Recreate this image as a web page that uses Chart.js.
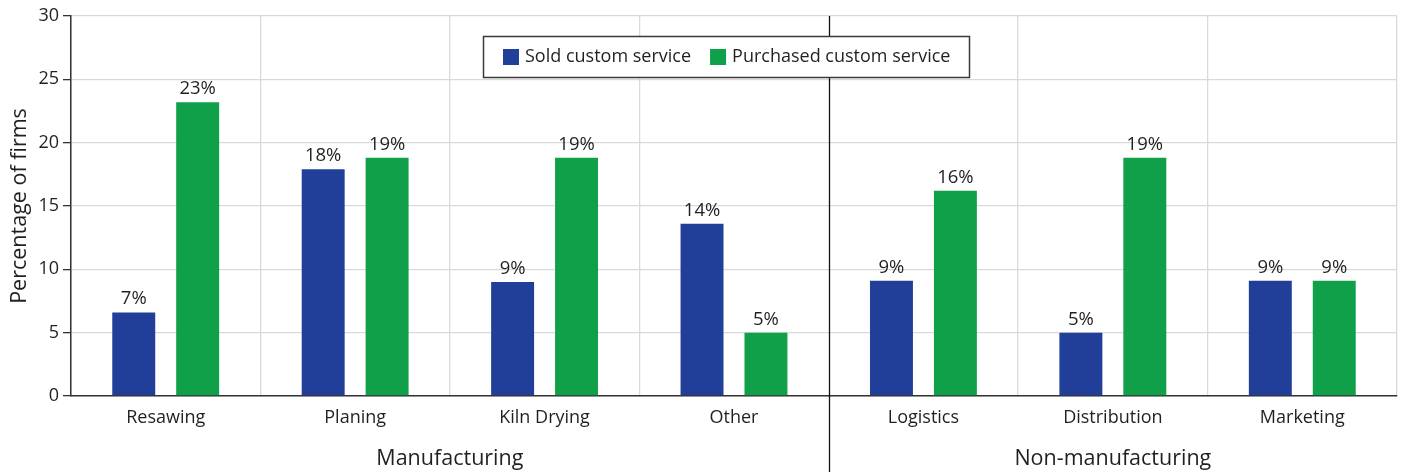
<!DOCTYPE html>
<html>
<head>
<meta charset="utf-8">
<script src="https://cdn.jsdelivr.net/npm/chart.js@4.4.0/dist/chart.umd.min.js"></script>
<style>
  html, body { margin: 0; padding: 0; background: #fff; }
  #wrap { width: 1403px; height: 472px; position: relative; }
</style>
</head>
<body>
<div id="wrap"><canvas id="servicesChart"></canvas></div>
<script>
var categories = ["Resawing", "Planing", "Kiln Drying", "Other", "Logistics", "Distribution", "Marketing"];
var soldValues = [6.6, 17.9, 9.0, 13.6, 9.1, 5.0, 9.1];
var purchasedValues = [23.2, 18.8, 18.8, 5.0, 16.2, 18.8, 9.1];
var groupNames = ["Manufacturing", "Non-manufacturing"];
var groupSizes = [4, 3];
var yTicks = [0, 5, 10, 15, 20, 25, 30];

var FONT = "'Open Sans', 'DejaVu Sans', sans-serif";
var TEXT = "#231f20";
var AXIS = "#333333";

// value labels, group labels, separator and the boxed legend
var extrasPlugin = {
  id: "extras",
  afterDatasetsDraw: function (chart) {
    var ctx = chart.ctx;
    ctx.save();
    ctx.fillStyle = TEXT;
    ctx.font = "18.5px " + FONT;
    ctx.textAlign = "center";
    ctx.textBaseline = "alphabetic";
    chart.data.datasets.forEach(function (ds, i) {
      chart.getDatasetMeta(i).data.forEach(function (bar, j) {
        ctx.fillText(Math.round(ds.data[j]) + "%", bar.x, bar.y - 8);
      });
    });
    ctx.restore();
  },
  afterDraw: function (chart) {
    var ctx = chart.ctx;
    var x = chart.scales.x;
    var area = chart.chartArea;
    var half = (x.getPixelForValue(1) - x.getPixelForValue(0)) / 2;
    ctx.save();

    // group labels under the category labels
    var start = 0;
    ctx.fillStyle = TEXT;
    ctx.font = "21.5px " + FONT;
    ctx.textAlign = "center";
    ctx.textBaseline = "middle";
    groupNames.forEach(function (name, g) {
      var left = x.getPixelForValue(start) - half;
      var right = x.getPixelForValue(start + groupSizes[g] - 1) + half;
      ctx.fillText(name, (left + right) / 2, 459);
      start += groupSizes[g];
    });

    // separator between the two groups, down to the bottom edge
    var sepX = Math.round(x.getPixelForValue(groupSizes[0]) - half) + 0.5;
    ctx.strokeStyle = "#111";
    ctx.lineWidth = 1.3;
    ctx.beginPath();
    ctx.moveTo(sepX, area.top);
    ctx.lineTo(sepX, chart.height);
    ctx.stroke();

    // legend box
    var boxL = 483.5, boxT = 36.5, boxW = 486, boxH = 41;
    ctx.fillStyle = "#fff";
    ctx.fillRect(boxL, boxT, boxW, boxH);
    ctx.strokeStyle = "#3a3a3a";
    ctx.lineWidth = 1.5;
    ctx.strokeRect(boxL, boxT, boxW, boxH);
    ctx.font = "18px " + FONT;
    ctx.textAlign = "left";
    ctx.textBaseline = "middle";
    var lx = 503;
    chart.data.datasets.forEach(function (ds) {
      ctx.fillStyle = ds.backgroundColor;
      ctx.fillRect(lx, 49, 16, 16);
      ctx.fillStyle = TEXT;
      ctx.fillText(ds.label, lx + 22, 57);
      lx += 22 + ctx.measureText(ds.label).width + 19;
    });
    ctx.restore();
  }
};

var ctx = document.getElementById("servicesChart").getContext("2d");
new Chart(ctx, {
  type: "bar",
  data: {
    labels: categories,
    datasets: [
      { label: "Sold custom service", data: soldValues, backgroundColor: "#213f99",
        categoryPercentage: 0.675, barPercentage: 0.672 },
      { label: "Purchased custom service", data: purchasedValues, backgroundColor: "#10a049",
        categoryPercentage: 0.675, barPercentage: 0.672 }
    ]
  },
  options: {
    responsive: true,
    maintainAspectRatio: false,
    animation: false,
    layout: { padding: { top: 16, right: 6, left: 0, bottom: 0 } },
    plugins: {
      legend: { display: false },
      tooltip: { enabled: false }
    },
    scales: {
      x: {
        grid: {
          offset: true,
          drawTicks: false,
          color: function (c) { return c.index === groupSizes[0] ? "rgba(0,0,0,0)" : "#d9d9d9"; },
          lineWidth: 1.3
        },
        border: { color: AXIS, width: 1.5 },
        ticks: { color: TEXT, font: { family: FONT, size: 18 }, padding: 11 },
        afterFit: function (s) { s.height = 76; }
      },
      y: {
        min: 0,
        max: 30,
        afterBuildTicks: function (s) { s.ticks = yTicks.map(function (v) { return { value: v }; }); },
        grid: { color: "#d9d9d9", lineWidth: 1.3, tickColor: AXIS, tickLength: 8 },
        border: { color: AXIS, width: 1.5 },
        ticks: { color: TEXT, font: { family: FONT, size: 18 }, padding: 4 },
        title: { display: true, text: "Percentage of firms", color: TEXT,
                 font: { family: FONT, size: 21.5 }, padding: { top: 7, bottom: 4 } },
        afterFit: function (s) { s.width = 71; }
      }
    }
  },
  plugins: [extrasPlugin]
});
</script>
</body>
</html>
